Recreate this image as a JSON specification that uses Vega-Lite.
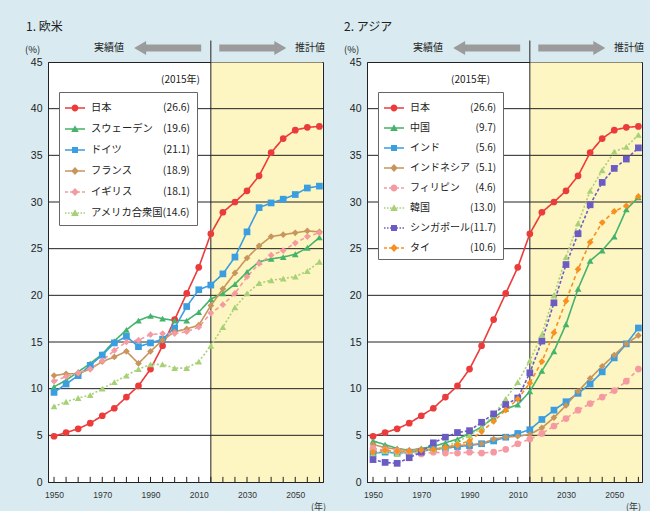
{
"$schema":"https://vega.github.io/schema/vega-lite/v6.json",
"background":"#d9ebf1",
"padding":{"left":23,"top":20,"right":5,"bottom":5},
"config":{"view":{"stroke":"#222","strokeWidth":1,"fill":"white"},"font":"Noto Sans CJK JP","axis":{"labelOverlap":false},"axisX":{"labelOverlap":false,"labelSeparation":0}},
"datasets":{
"grid":[{"g":5},{"g":10},{"g":15},{"g":20},{"g":25},{"g":30},{"g":35},{"g":40}],
"xt":[{"t":1950},{"t":1955},{"t":1960},{"t":1965},{"t":1970},{"t":1975},{"t":1980},{"t":1985},{"t":1990},{"t":1995},{"t":2000},{"t":2005},{"t":2010},{"t":2015},{"t":2020},{"t":2025},{"t":2030},{"t":2035},{"t":2040},{"t":2045},{"t":2050},{"t":2055},{"t":2060}],
"west":[
{"c":"日本","year":1950,"v":4.9},{"c":"日本","year":1955,"v":5.3},{"c":"日本","year":1960,"v":5.7},{"c":"日本","year":1965,"v":6.3},{"c":"日本","year":1970,"v":7.1},{"c":"日本","year":1975,"v":7.9},{"c":"日本","year":1980,"v":9.1},{"c":"日本","year":1985,"v":10.3},{"c":"日本","year":1990,"v":12.1},{"c":"日本","year":1995,"v":14.6},{"c":"日本","year":2000,"v":17.4},{"c":"日本","year":2005,"v":20.2},{"c":"日本","year":2010,"v":23.0},{"c":"日本","year":2015,"v":26.6},{"c":"日本","year":2020,"v":28.9},{"c":"日本","year":2025,"v":30.0},{"c":"日本","year":2030,"v":31.2},{"c":"日本","year":2035,"v":32.8},{"c":"日本","year":2040,"v":35.3},{"c":"日本","year":2045,"v":36.8},{"c":"日本","year":2050,"v":37.7},{"c":"日本","year":2055,"v":38.0},{"c":"日本","year":2060,"v":38.1},
{"c":"スウェーデン","year":1950,"v":10.2},{"c":"スウェーデン","year":1955,"v":10.9},{"c":"スウェーデン","year":1960,"v":11.8},{"c":"スウェーデン","year":1965,"v":12.7},{"c":"スウェーデン","year":1970,"v":13.7},{"c":"スウェーデン","year":1975,"v":15.1},{"c":"スウェーデン","year":1980,"v":16.3},{"c":"スウェーデン","year":1985,"v":17.3},{"c":"スウェーデン","year":1990,"v":17.8},{"c":"スウェーデン","year":1995,"v":17.5},{"c":"スウェーデン","year":2000,"v":17.3},{"c":"スウェーデン","year":2005,"v":17.3},{"c":"スウェーデン","year":2010,"v":18.2},{"c":"スウェーデン","year":2015,"v":19.6},{"c":"スウェーデン","year":2020,"v":20.2},{"c":"スウェーデン","year":2025,"v":21.2},{"c":"スウェーデン","year":2030,"v":22.5},{"c":"スウェーデン","year":2035,"v":23.6},{"c":"スウェーデン","year":2040,"v":23.9},{"c":"スウェーデン","year":2045,"v":24.1},{"c":"スウェーデン","year":2050,"v":24.4},{"c":"スウェーデン","year":2055,"v":25.1},{"c":"スウェーデン","year":2060,"v":26.2},
{"c":"ドイツ","year":1950,"v":9.6},{"c":"ドイツ","year":1955,"v":10.5},{"c":"ドイツ","year":1960,"v":11.4},{"c":"ドイツ","year":1965,"v":12.5},{"c":"ドイツ","year":1970,"v":13.6},{"c":"ドイツ","year":1975,"v":14.9},{"c":"ドイツ","year":1980,"v":15.6},{"c":"ドイツ","year":1985,"v":14.5},{"c":"ドイツ","year":1990,"v":14.9},{"c":"ドイツ","year":1995,"v":15.3},{"c":"ドイツ","year":2000,"v":16.5},{"c":"ドイツ","year":2005,"v":18.8},{"c":"ドイツ","year":2010,"v":20.6},{"c":"ドイツ","year":2015,"v":21.1},{"c":"ドイツ","year":2020,"v":22.3},{"c":"ドイツ","year":2025,"v":24.1},{"c":"ドイツ","year":2030,"v":26.8},{"c":"ドイツ","year":2035,"v":29.4},{"c":"ドイツ","year":2040,"v":29.9},{"c":"ドイツ","year":2045,"v":30.3},{"c":"ドイツ","year":2050,"v":30.8},{"c":"ドイツ","year":2055,"v":31.5},{"c":"ドイツ","year":2060,"v":31.7},
{"c":"フランス","year":1950,"v":11.4},{"c":"フランス","year":1955,"v":11.6},{"c":"フランス","year":1960,"v":11.6},{"c":"フランス","year":1965,"v":12.1},{"c":"フランス","year":1970,"v":12.9},{"c":"フランス","year":1975,"v":13.4},{"c":"フランス","year":1980,"v":14.0},{"c":"フランス","year":1985,"v":12.7},{"c":"フランス","year":1990,"v":14.0},{"c":"フランス","year":1995,"v":15.2},{"c":"フランス","year":2000,"v":16.1},{"c":"フランス","year":2005,"v":16.4},{"c":"フランス","year":2010,"v":16.8},{"c":"フランス","year":2015,"v":18.9},{"c":"フランス","year":2020,"v":20.7},{"c":"フランス","year":2025,"v":22.4},{"c":"フランス","year":2030,"v":24.0},{"c":"フランス","year":2035,"v":25.3},{"c":"フランス","year":2040,"v":26.3},{"c":"フランス","year":2045,"v":26.5},{"c":"フランス","year":2050,"v":26.7},{"c":"フランス","year":2055,"v":26.9},{"c":"フランス","year":2060,"v":26.8},
{"c":"イギリス","year":1950,"v":10.8},{"c":"イギリス","year":1955,"v":11.3},{"c":"イギリス","year":1960,"v":11.7},{"c":"イギリス","year":1965,"v":12.1},{"c":"イギリス","year":1970,"v":13.0},{"c":"イギリス","year":1975,"v":14.1},{"c":"イギリス","year":1980,"v":15.0},{"c":"イギリス","year":1985,"v":15.2},{"c":"イギリス","year":1990,"v":15.8},{"c":"イギリス","year":1995,"v":15.9},{"c":"イギリス","year":2000,"v":15.9},{"c":"イギリス","year":2005,"v":16.1},{"c":"イギリス","year":2010,"v":16.6},{"c":"イギリス","year":2015,"v":18.1},{"c":"イギリス","year":2020,"v":19.0},{"c":"イギリス","year":2025,"v":20.2},{"c":"イギリス","year":2030,"v":22.0},{"c":"イギリス","year":2035,"v":23.4},{"c":"イギリス","year":2040,"v":24.3},{"c":"イギリス","year":2045,"v":24.8},{"c":"イギリス","year":2050,"v":25.6},{"c":"イギリス","year":2055,"v":26.3},{"c":"イギリス","year":2060,"v":26.7},
{"c":"アメリカ合衆国","year":1950,"v":8.1},{"c":"アメリカ合衆国","year":1955,"v":8.6},{"c":"アメリカ合衆国","year":1960,"v":9.0},{"c":"アメリカ合衆国","year":1965,"v":9.3},{"c":"アメリカ合衆国","year":1970,"v":10.0},{"c":"アメリカ合衆国","year":1975,"v":10.7},{"c":"アメリカ合衆国","year":1980,"v":11.4},{"c":"アメリカ合衆国","year":1985,"v":12.1},{"c":"アメリカ合衆国","year":1990,"v":12.6},{"c":"アメリカ合衆国","year":1995,"v":12.6},{"c":"アメリカ合衆国","year":2000,"v":12.2},{"c":"アメリカ合衆国","year":2005,"v":12.2},{"c":"アメリカ合衆国","year":2010,"v":12.9},{"c":"アメリカ合衆国","year":2015,"v":14.6},{"c":"アメリカ合衆国","year":2020,"v":16.6},{"c":"アメリカ合衆国","year":2025,"v":18.7},{"c":"アメリカ合衆国","year":2030,"v":20.2},{"c":"アメリカ合衆国","year":2035,"v":21.3},{"c":"アメリカ合衆国","year":2040,"v":21.6},{"c":"アメリカ合衆国","year":2045,"v":21.8},{"c":"アメリカ合衆国","year":2050,"v":22.0},{"c":"アメリカ合衆国","year":2055,"v":22.6},{"c":"アメリカ合衆国","year":2060,"v":23.6}
],
"asia":[
{"c":"日本","year":1950,"v":4.9},{"c":"日本","year":1955,"v":5.3},{"c":"日本","year":1960,"v":5.7},{"c":"日本","year":1965,"v":6.3},{"c":"日本","year":1970,"v":7.1},{"c":"日本","year":1975,"v":7.9},{"c":"日本","year":1980,"v":9.1},{"c":"日本","year":1985,"v":10.3},{"c":"日本","year":1990,"v":12.1},{"c":"日本","year":1995,"v":14.6},{"c":"日本","year":2000,"v":17.4},{"c":"日本","year":2005,"v":20.2},{"c":"日本","year":2010,"v":23.0},{"c":"日本","year":2015,"v":26.6},{"c":"日本","year":2020,"v":28.9},{"c":"日本","year":2025,"v":30.0},{"c":"日本","year":2030,"v":31.2},{"c":"日本","year":2035,"v":32.8},{"c":"日本","year":2040,"v":35.3},{"c":"日本","year":2045,"v":36.8},{"c":"日本","year":2050,"v":37.7},{"c":"日本","year":2055,"v":38.0},{"c":"日本","year":2060,"v":38.1},
{"c":"中国","year":1950,"v":4.4},{"c":"中国","year":1955,"v":4.0},{"c":"中国","year":1960,"v":3.6},{"c":"中国","year":1965,"v":3.4},{"c":"中国","year":1970,"v":3.6},{"c":"中国","year":1975,"v":3.8},{"c":"中国","year":1980,"v":4.2},{"c":"中国","year":1985,"v":4.6},{"c":"中国","year":1990,"v":5.2},{"c":"中国","year":1995,"v":5.9},{"c":"中国","year":2000,"v":6.9},{"c":"中国","year":2005,"v":7.8},{"c":"中国","year":2010,"v":8.3},{"c":"中国","year":2015,"v":9.7},{"c":"中国","year":2020,"v":11.9},{"c":"中国","year":2025,"v":14.0},{"c":"中国","year":2030,"v":16.9},{"c":"中国","year":2035,"v":20.7},{"c":"中国","year":2040,"v":23.7},{"c":"中国","year":2045,"v":24.8},{"c":"中国","year":2050,"v":26.3},{"c":"中国","year":2055,"v":29.2},{"c":"中国","year":2060,"v":30.5},
{"c":"インド","year":1950,"v":3.1},{"c":"インド","year":1955,"v":3.2},{"c":"インド","year":1960,"v":3.1},{"c":"インド","year":1965,"v":3.2},{"c":"インド","year":1970,"v":3.3},{"c":"インド","year":1975,"v":3.5},{"c":"インド","year":1980,"v":3.6},{"c":"インド","year":1985,"v":3.8},{"c":"インド","year":1990,"v":3.9},{"c":"インド","year":1995,"v":4.1},{"c":"インド","year":2000,"v":4.4},{"c":"インド","year":2005,"v":4.8},{"c":"インド","year":2010,"v":5.2},{"c":"インド","year":2015,"v":5.6},{"c":"インド","year":2020,"v":6.7},{"c":"インド","year":2025,"v":7.7},{"c":"インド","year":2030,"v":8.6},{"c":"インド","year":2035,"v":9.5},{"c":"インド","year":2040,"v":10.5},{"c":"インド","year":2045,"v":11.8},{"c":"インド","year":2050,"v":13.3},{"c":"インド","year":2055,"v":14.8},{"c":"インド","year":2060,"v":16.5},
{"c":"インドネシア","year":1950,"v":4.0},{"c":"インドネシア","year":1955,"v":3.7},{"c":"インドネシア","year":1960,"v":3.5},{"c":"インドネシア","year":1965,"v":3.4},{"c":"インドネシア","year":1970,"v":3.5},{"c":"インドネシア","year":1975,"v":3.5},{"c":"インドネシア","year":1980,"v":3.7},{"c":"インドネシア","year":1985,"v":3.9},{"c":"インドネシア","year":1990,"v":4.0},{"c":"インドネシア","year":1995,"v":4.1},{"c":"インドネシア","year":2000,"v":4.6},{"c":"インドネシア","year":2005,"v":4.8},{"c":"インドネシア","year":2010,"v":4.9},{"c":"インドネシア","year":2015,"v":5.1},{"c":"インドネシア","year":2020,"v":5.8},{"c":"インドネシア","year":2025,"v":6.9},{"c":"インドネシア","year":2030,"v":8.2},{"c":"インドネシア","year":2035,"v":9.7},{"c":"インドネシア","year":2040,"v":11.1},{"c":"インドネシア","year":2045,"v":12.4},{"c":"インドネシア","year":2050,"v":13.6},{"c":"インドネシア","year":2055,"v":14.8},{"c":"インドネシア","year":2060,"v":15.7},
{"c":"フィリピン","year":1950,"v":3.6},{"c":"フィリピン","year":1955,"v":3.4},{"c":"フィリピン","year":1960,"v":3.3},{"c":"フィリピン","year":1965,"v":3.1},{"c":"フィリピン","year":1970,"v":3.0},{"c":"フィリピン","year":1975,"v":3.2},{"c":"フィリピン","year":1980,"v":3.1},{"c":"フィリピン","year":1985,"v":3.1},{"c":"フィリピン","year":1990,"v":3.2},{"c":"フィリピン","year":1995,"v":3.1},{"c":"フィリピン","year":2000,"v":3.2},{"c":"フィリピン","year":2005,"v":3.5},{"c":"フィリピン","year":2010,"v":4.1},{"c":"フィリピン","year":2015,"v":4.6},{"c":"フィリピン","year":2020,"v":5.2},{"c":"フィリピン","year":2025,"v":6.0},{"c":"フィリピン","year":2030,"v":6.8},{"c":"フィリピン","year":2035,"v":7.7},{"c":"フィリピン","year":2040,"v":8.4},{"c":"フィリピン","year":2045,"v":9.1},{"c":"フィリピン","year":2050,"v":9.8},{"c":"フィリピン","year":2055,"v":10.8},{"c":"フィリピン","year":2060,"v":12.1},
{"c":"韓国","year":1950,"v":3.0},{"c":"韓国","year":1955,"v":3.3},{"c":"韓国","year":1960,"v":3.0},{"c":"韓国","year":1965,"v":3.1},{"c":"韓国","year":1970,"v":3.3},{"c":"韓国","year":1975,"v":3.5},{"c":"韓国","year":1980,"v":3.8},{"c":"韓国","year":1985,"v":4.3},{"c":"韓国","year":1990,"v":5.0},{"c":"韓国","year":1995,"v":5.8},{"c":"韓国","year":2000,"v":7.2},{"c":"韓国","year":2005,"v":8.9},{"c":"韓国","year":2010,"v":10.7},{"c":"韓国","year":2015,"v":13.0},{"c":"韓国","year":2020,"v":15.8},{"c":"韓国","year":2025,"v":20.0},{"c":"韓国","year":2030,"v":24.1},{"c":"韓国","year":2035,"v":27.7},{"c":"韓国","year":2040,"v":31.2},{"c":"韓国","year":2045,"v":33.4},{"c":"韓国","year":2050,"v":35.4},{"c":"韓国","year":2055,"v":35.9},{"c":"韓国","year":2060,"v":37.2},
{"c":"シンガポール","year":1950,"v":2.4},{"c":"シンガポール","year":1955,"v":2.1},{"c":"シンガポール","year":1960,"v":2.0},{"c":"シンガポール","year":1965,"v":2.6},{"c":"シンガポール","year":1970,"v":3.2},{"c":"シンガポール","year":1975,"v":4.2},{"c":"シンガポール","year":1980,"v":4.8},{"c":"シンガポール","year":1985,"v":5.3},{"c":"シンガポール","year":1990,"v":5.5},{"c":"シンガポール","year":1995,"v":6.4},{"c":"シンガポール","year":2000,"v":7.3},{"c":"シンガポール","year":2005,"v":8.3},{"c":"シンガポール","year":2010,"v":9.0},{"c":"シンガポール","year":2015,"v":11.7},{"c":"シンガポール","year":2020,"v":15.1},{"c":"シンガポール","year":2025,"v":19.2},{"c":"シンガポール","year":2030,"v":23.3},{"c":"シンガポール","year":2035,"v":26.6},{"c":"シンガポール","year":2040,"v":29.7},{"c":"シンガポール","year":2045,"v":32.1},{"c":"シンガポール","year":2050,"v":33.6},{"c":"シンガポール","year":2055,"v":34.6},{"c":"シンガポール","year":2060,"v":35.8},
{"c":"タイ","year":1950,"v":3.2},{"c":"タイ","year":1955,"v":3.4},{"c":"タイ","year":1960,"v":3.3},{"c":"タイ","year":1965,"v":3.3},{"c":"タイ","year":1970,"v":3.4},{"c":"タイ","year":1975,"v":3.5},{"c":"タイ","year":1980,"v":3.7},{"c":"タイ","year":1985,"v":4.0},{"c":"タイ","year":1990,"v":4.4},{"c":"タイ","year":1995,"v":5.4},{"c":"タイ","year":2000,"v":6.5},{"c":"タイ","year":2005,"v":7.7},{"c":"タイ","year":2010,"v":8.9},{"c":"タイ","year":2015,"v":10.6},{"c":"タイ","year":2020,"v":12.9},{"c":"タイ","year":2025,"v":16.0},{"c":"タイ","year":2030,"v":19.4},{"c":"タイ","year":2035,"v":22.8},{"c":"タイ","year":2040,"v":25.7},{"c":"タイ","year":2045,"v":27.8},{"c":"タイ","year":2050,"v":29.0},{"c":"タイ","year":2055,"v":29.6},{"c":"タイ","year":2060,"v":30.6}
]
},
"spacing":44,
"bounds":"flush",
"resolve":{"scale":{"color":"independent","shape":"independent","strokeDash":"independent"},"legend":{"color":"independent"}},
"hconcat":[
{
"width":275,"height":420,
"title":{"text":"1. 欧米","anchor":"start","frame":"group","dx":-22,"offset":6,"fontSize":12,"fontWeight":"normal","font":"Noto Sans CJK JP","color":"#222"},
"layer":[
{"data":{"values":[{}]},"mark":{"type":"rect","fill":"#fdf5c2"},"encoding":{"x":{"datum":2015,"type":"quantitative","scale":{"domain":[1947.5,2061.5],"nice":false,"zero":false},"title":"(年)"},"x2":{"datum":2061.3},"y":{"datum":0,"type":"quantitative","scale":{"domain":[0,45],"nice":false},"title":"(%)"},"y2":{"datum":44.95}}},
{"data":{"name":"grid"},"mark":{"type":"rule","color":"#222","strokeWidth":1},"encoding":{"y":{"field":"g","type":"quantitative","scale":{"domain":[0,45],"nice":false},"title":"(%)"}}},
{"data":{"name":"xt"},"mark":{"type":"rule","color":"#222","strokeWidth":1},"encoding":{"x":{"field":"t","type":"quantitative","scale":{"domain":[1947.5,2061.5],"nice":false,"zero":false},"title":"(年)"},"y":{"datum":0,"type":"quantitative","scale":{"domain":[0,45],"nice":false},"title":"(%)"},"y2":{"datum":0.55}}},
{"data":{"values":[{}]},"mark":{"type":"rule","color":"#222","strokeWidth":1},"encoding":{"x":{"datum":2015,"type":"quantitative","scale":{"domain":[1947.5,2061.5],"nice":false,"zero":false},"title":"(年)"},"y":{"datum":0,"type":"quantitative","scale":{"domain":[0,45],"nice":false},"title":"(%)"},"y2":{"datum":47.3}}},
{"data":{"name":"west"},"mark":{"type":"line","strokeWidth":1.6},"encoding":{
"x":{"field":"year","type":"quantitative","scale":{"domain":[1947.5,2061.5],"nice":false,"zero":false},"title":"(年)","axis":{"values":[1950,1960,1970,1980,1990,2000,2010,2020,2030,2040,2050,2060],"format":"d","grid":false,"ticks":false,"domainColor":"#222","labelPadding":8,"labelFont":"Liberation Sans","labelFontSize":8.5,"labelColor":"#333","labelOverlap":false,"labelSeparation":0,"labelFlush":false,"titleX":270,"titleY":24,"titleAlign":"center","titleBaseline":"middle","titleFontSize":9,"titleFontWeight":"normal","titleColor":"#333","zindex":1}},
"y":{"field":"v","type":"quantitative","scale":{"domain":[0,45],"nice":false},"title":"(%)","axis":{"values":[0,5,10,15,20,25,30,35,40,45],"grid":false,"ticks":false,"domainColor":"#222","labelPadding":6,"labelFont":"Liberation Sans","labelFontSize":10.5,"labelColor":"#222","titleAngle":0,"titleX":-16,"titleY":-13,"titleAlign":"center","titleBaseline":"middle","titleFontSize":9.5,"titleFontWeight":"normal","titleColor":"#222","zindex":1}},
"color":{"field":"c","type":"nominal","scale":{"domain":["日本","スウェーデン","ドイツ","フランス","イギリス","アメリカ合衆国"],"range":["#ec3b3b","#45b36a","#3a9ee0","#c8955c","#f59aa0","#a8d077"]},
"legend":{"orient":"none","legendX":11,"legendY":30,"title":null,"fillColor":"white","strokeColor":"#666","padding":6,"rowPadding":5,"symbolSize":400,"labelOffset":6,"labelFont":"Noto Sans CJK JP","labelFontSize":10.3,"labelColor":"#222","labelLimit":400,
"labelExpr":"['日本　　　　　(26.6)','スウェーデン　(19.6)','ドイツ　　　　(21.1)','フランス　　　(18.9)','イギリス　　　(18.1)','アメリカ合衆国(14.6)'][indexof(['日本','スウェーデン','ドイツ','フランス','イギリス','アメリカ合衆国'], datum.value)]",
"encode":{"symbols":{"update":{
"shape":{"signal":"['M-1,-0.08H1V0.08H-1ZM0.34,0A0.34,0.34,0,1,1,-0.34,0A0.34,0.34,0,1,1,0.34,0Z','M-1,-0.08H1V0.08H-1ZM0,-0.38L0.38,0.3H-0.38Z','M-1,-0.08H1V0.08H-1ZM-0.3,-0.3H0.3V0.3H-0.3Z','M-1,-0.08H1V0.08H-1ZM0,-0.4L0.38,0L0,0.4L-0.38,0Z','M-1,-0.08H-0.7V0.08H-1ZM-0.5,-0.08H-0.2V0.08H-0.5ZM0.2,-0.08H0.5V0.08H0.2ZM0.7,-0.08H1V0.08H0.7ZM0,-0.4L0.38,0L0,0.4L-0.38,0Z','M-1,-0.08H-0.85V0.08H-1ZM-0.7,-0.08H-0.55V0.08H-0.7ZM-0.4,-0.08H-0.25V0.08H-0.4ZM0.25,-0.08H0.4V0.08H0.25ZM0.55,-0.08H0.7V0.08H0.55ZM0.85,-0.08H1V0.08H0.85ZM0,-0.38L0.38,0.3H-0.38Z'][indexof(['日本','スウェーデン','ドイツ','フランス','イギリス','アメリカ合衆国'], datum.value)]"},
"fill":{"signal":"['#ec3b3b','#45b36a','#3a9ee0','#c8955c','#f59aa0','#a8d077'][indexof(['日本','スウェーデン','ドイツ','フランス','イギリス','アメリカ合衆国'], datum.value)]"},
"stroke":{"value":"transparent"},"strokeWidth":{"value":0},"size":{"value":400},"opacity":{"value":1}}}}}},
"strokeDash":{"field":"c","type":"nominal","scale":{"domain":["日本","スウェーデン","ドイツ","フランス","イギリス","アメリカ合衆国"],"range":[[1,0],[1,0],[1,0],[1,0],[4,3],[2,2]]},"legend":null}
}},
{"data":{"name":"west"},"mark":{"type":"point","filled":true,"size":45,"opacity":1},"encoding":{
"x":{"field":"year","type":"quantitative","scale":{"domain":[1947.5,2061.5],"nice":false,"zero":false},"title":"(年)"},
"y":{"field":"v","type":"quantitative","scale":{"domain":[0,45],"nice":false},"title":"(%)"},
"color":{"field":"c","type":"nominal","scale":{"domain":["日本","スウェーデン","ドイツ","フランス","イギリス","アメリカ合衆国"],"range":["#ec3b3b","#45b36a","#3a9ee0","#c8955c","#f59aa0","#a8d077"]},"legend":null},
"shape":{"field":"c","type":"nominal","scale":{"domain":["アメリカ合衆国","イギリス","フランス","ドイツ","スウェーデン","日本"],"range":["triangle-up","diamond","diamond","square","triangle-up","circle"]},"legend":null}
}},
{"data":{"values":[{}]},"mark":{"type":"rule","strokeWidth":7,"color":"#9b9b9b"},"encoding":{"x":{"datum":1986,"type":"quantitative","scale":{"domain":[1947.5,2061.5],"nice":false,"zero":false},"title":"(年)"},"x2":{"datum":2011},"y":{"datum":46.5,"type":"quantitative","scale":{"domain":[0,45],"nice":false},"title":"(%)"}}},
{"data":{"values":[{}]},"mark":{"type":"rule","strokeWidth":7,"color":"#9b9b9b"},"encoding":{"x":{"datum":2018.5,"type":"quantitative","scale":{"domain":[1947.5,2061.5],"nice":false,"zero":false},"title":"(年)"},"x2":{"datum":2043.5},"y":{"datum":46.5,"type":"quantitative","scale":{"domain":[0,45],"nice":false},"title":"(%)"}}},
{"data":{"values":[{}]},"mark":{"type":"point","shape":"triangle-left","filled":true,"size":190,"color":"#9b9b9b","opacity":1},"encoding":{"x":{"datum":1985.7,"type":"quantitative","scale":{"domain":[1947.5,2061.5],"nice":false,"zero":false},"title":"(年)"},"y":{"datum":46.5,"type":"quantitative","scale":{"domain":[0,45],"nice":false},"title":"(%)"}}},
{"data":{"values":[{}]},"mark":{"type":"point","shape":"triangle-right","filled":true,"size":190,"color":"#9b9b9b","opacity":1},"encoding":{"x":{"datum":2043.8,"type":"quantitative","scale":{"domain":[1947.5,2061.5],"nice":false,"zero":false},"title":"(年)"},"y":{"datum":46.5,"type":"quantitative","scale":{"domain":[0,45],"nice":false},"title":"(%)"}}},
{"data":{"values":[{}]},"mark":{"type":"text","text":"実績値","fontSize":10,"font":"Noto Sans CJK JP","color":"#222"},"encoding":{"x":{"datum":1972.8,"type":"quantitative","scale":{"domain":[1947.5,2061.5],"nice":false,"zero":false},"title":"(年)"},"y":{"datum":46.5,"type":"quantitative","scale":{"domain":[0,45],"nice":false},"title":"(%)"}}},
{"data":{"values":[{}]},"mark":{"type":"text","text":"推計値","fontSize":10,"font":"Noto Sans CJK JP","color":"#222"},"encoding":{"x":{"datum":2056.1,"type":"quantitative","scale":{"domain":[1947.5,2061.5],"nice":false,"zero":false},"title":"(年)"},"y":{"datum":46.5,"type":"quantitative","scale":{"domain":[0,45],"nice":false},"title":"(%)"}}},
{"data":{"values":[{}]},"mark":{"type":"text","text":"(2015年)","align":"right","fontSize":10,"font":"Noto Sans CJK JP","color":"#222"},"encoding":{"x":{"datum":2010.5,"type":"quantitative","scale":{"domain":[1947.5,2061.5],"nice":false,"zero":false},"title":"(年)"},"y":{"datum":43.1,"type":"quantitative","scale":{"domain":[0,45],"nice":false},"title":"(%)"}}}
]
},
{
"width":275,"height":420,
"title":{"text":"2. アジア","anchor":"start","frame":"group","dx":-23,"offset":6,"fontSize":12,"fontWeight":"normal","font":"Noto Sans CJK JP","color":"#222"},
"layer":[
{"data":{"values":[{}]},"mark":{"type":"rect","fill":"#fdf5c2"},"encoding":{"x":{"datum":2015,"type":"quantitative","scale":{"domain":[1947.5,2061.5],"nice":false,"zero":false},"title":"(年)"},"x2":{"datum":2061.3},"y":{"datum":0,"type":"quantitative","scale":{"domain":[0,45],"nice":false},"title":"(%)"},"y2":{"datum":44.95}}},
{"data":{"name":"grid"},"mark":{"type":"rule","color":"#222","strokeWidth":1},"encoding":{"y":{"field":"g","type":"quantitative","scale":{"domain":[0,45],"nice":false},"title":"(%)"}}},
{"data":{"name":"xt"},"mark":{"type":"rule","color":"#222","strokeWidth":1},"encoding":{"x":{"field":"t","type":"quantitative","scale":{"domain":[1947.5,2061.5],"nice":false,"zero":false},"title":"(年)"},"y":{"datum":0,"type":"quantitative","scale":{"domain":[0,45],"nice":false},"title":"(%)"},"y2":{"datum":0.55}}},
{"data":{"values":[{}]},"mark":{"type":"rule","color":"#222","strokeWidth":1},"encoding":{"x":{"datum":2015,"type":"quantitative","scale":{"domain":[1947.5,2061.5],"nice":false,"zero":false},"title":"(年)"},"y":{"datum":0,"type":"quantitative","scale":{"domain":[0,45],"nice":false},"title":"(%)"},"y2":{"datum":47.3}}},
{"data":{"name":"asia"},"mark":{"type":"line","strokeWidth":1.6},"encoding":{
"x":{"field":"year","type":"quantitative","scale":{"domain":[1947.5,2061.5],"nice":false,"zero":false},"title":"(年)","axis":{"values":[1950,1960,1970,1980,1990,2000,2010,2020,2030,2040,2050,2060],"format":"d","grid":false,"ticks":false,"domainColor":"#222","labelPadding":8,"labelFont":"Liberation Sans","labelFontSize":8.5,"labelColor":"#333","labelOverlap":false,"labelSeparation":0,"labelFlush":false,"titleX":266,"titleY":24,"titleAlign":"center","titleBaseline":"middle","titleFontSize":9,"titleFontWeight":"normal","titleColor":"#333","zindex":1}},
"y":{"field":"v","type":"quantitative","scale":{"domain":[0,45],"nice":false},"title":"(%)","axis":{"values":[0,5,10,15,20,25,30,35,40,45],"grid":false,"ticks":false,"domainColor":"#222","labelPadding":6,"labelFont":"Liberation Sans","labelFontSize":10.5,"labelColor":"#222","titleAngle":0,"titleX":-16,"titleY":-13,"titleAlign":"center","titleBaseline":"middle","titleFontSize":9.5,"titleFontWeight":"normal","titleColor":"#222","zindex":1}},
"color":{"field":"c","type":"nominal","scale":{"domain":["日本","中国","インド","インドネシア","フィリピン","韓国","シンガポール","タイ"],"range":["#ec3b3b","#45b36a","#3a9ee0","#c8955c","#f59aa0","#a8d077","#6b5cc4","#f7901e"]},
"legend":{"orient":"none","legendX":11,"legendY":30,"title":null,"fillColor":"white","strokeColor":"#666","padding":6,"rowPadding":5,"symbolSize":400,"labelOffset":6,"labelFont":"Noto Sans CJK JP","labelFontSize":10,"labelColor":"#222","labelLimit":400,
"labelExpr":"['日本　　　　(26.6)','中国　　　　\u2007(9.7)','インド　　　\u2007(5.6)','インドネシア\u2007(5.1)','フィリピン　\u2007(4.6)','韓国　　　　(13.0)','シンガポール(11.7)','タイ　　　　(10.6)'][indexof(['日本','中国','インド','インドネシア','フィリピン','韓国','シンガポール','タイ'], datum.value)]",
"encode":{"symbols":{"update":{
"shape":{"signal":"['M-1,-0.08H1V0.08H-1ZM0.34,0A0.34,0.34,0,1,1,-0.34,0A0.34,0.34,0,1,1,0.34,0Z','M-1,-0.08H1V0.08H-1ZM0,-0.38L0.38,0.3H-0.38Z','M-1,-0.08H1V0.08H-1ZM-0.3,-0.3H0.3V0.3H-0.3Z','M-1,-0.08H1V0.08H-1ZM0,-0.4L0.38,0L0,0.4L-0.38,0Z','M-1,-0.08H-0.7V0.08H-1ZM-0.5,-0.08H-0.2V0.08H-0.5ZM0.2,-0.08H0.5V0.08H0.2ZM0.7,-0.08H1V0.08H0.7ZM0.34,0A0.34,0.34,0,1,1,-0.34,0A0.34,0.34,0,1,1,0.34,0Z','M-1,-0.08H-0.85V0.08H-1ZM-0.7,-0.08H-0.55V0.08H-0.7ZM-0.4,-0.08H-0.25V0.08H-0.4ZM0.25,-0.08H0.4V0.08H0.25ZM0.55,-0.08H0.7V0.08H0.55ZM0.85,-0.08H1V0.08H0.85ZM0,-0.38L0.38,0.3H-0.38Z','M-1,-0.08H-0.85V0.08H-1ZM-0.7,-0.08H-0.55V0.08H-0.7ZM-0.4,-0.08H-0.25V0.08H-0.4ZM0.25,-0.08H0.4V0.08H0.25ZM0.55,-0.08H0.7V0.08H0.55ZM0.85,-0.08H1V0.08H0.85ZM-0.3,-0.3H0.3V0.3H-0.3Z','M-1,-0.08H-0.7V0.08H-1ZM-0.5,-0.08H-0.2V0.08H-0.5ZM0.2,-0.08H0.5V0.08H0.2ZM0.7,-0.08H1V0.08H0.7ZM0,-0.4L0.38,0L0,0.4L-0.38,0Z'][indexof(['日本','中国','インド','インドネシア','フィリピン','韓国','シンガポール','タイ'], datum.value)]"},
"fill":{"signal":"['#ec3b3b','#45b36a','#3a9ee0','#c8955c','#f59aa0','#a8d077','#6b5cc4','#f7901e'][indexof(['日本','中国','インド','インドネシア','フィリピン','韓国','シンガポール','タイ'], datum.value)]"},
"stroke":{"value":"transparent"},"strokeWidth":{"value":0},"size":{"value":400},"opacity":{"value":1}}}}}},
"strokeDash":{"field":"c","type":"nominal","scale":{"domain":["日本","中国","インド","インドネシア","フィリピン","韓国","シンガポール","タイ"],"range":[[1,0],[1,0],[1,0],[1,0],[4,3],[2,2],[3,2],[4,3]]},"legend":null}
}},
{"data":{"name":"asia"},"mark":{"type":"point","filled":true,"size":45,"opacity":1},"encoding":{
"x":{"field":"year","type":"quantitative","scale":{"domain":[1947.5,2061.5],"nice":false,"zero":false},"title":"(年)"},
"y":{"field":"v","type":"quantitative","scale":{"domain":[0,45],"nice":false},"title":"(%)"},
"color":{"field":"c","type":"nominal","scale":{"domain":["日本","中国","インド","インドネシア","フィリピン","韓国","シンガポール","タイ"],"range":["#ec3b3b","#45b36a","#3a9ee0","#c8955c","#f59aa0","#a8d077","#6b5cc4","#f7901e"]},"legend":null},
"shape":{"field":"c","type":"nominal","scale":{"domain":["タイ","シンガポール","韓国","フィリピン","インドネシア","インド","中国","日本"],"range":["diamond","square","triangle-up","circle","diamond","square","triangle-up","circle"]},"legend":null}
}},
{"data":{"values":[{}]},"mark":{"type":"rule","strokeWidth":7,"color":"#9b9b9b"},"encoding":{"x":{"datum":1986,"type":"quantitative","scale":{"domain":[1947.5,2061.5],"nice":false,"zero":false},"title":"(年)"},"x2":{"datum":2011},"y":{"datum":46.5,"type":"quantitative","scale":{"domain":[0,45],"nice":false},"title":"(%)"}}},
{"data":{"values":[{}]},"mark":{"type":"rule","strokeWidth":7,"color":"#9b9b9b"},"encoding":{"x":{"datum":2018.5,"type":"quantitative","scale":{"domain":[1947.5,2061.5],"nice":false,"zero":false},"title":"(年)"},"x2":{"datum":2043.5},"y":{"datum":46.5,"type":"quantitative","scale":{"domain":[0,45],"nice":false},"title":"(%)"}}},
{"data":{"values":[{}]},"mark":{"type":"point","shape":"triangle-left","filled":true,"size":190,"color":"#9b9b9b","opacity":1},"encoding":{"x":{"datum":1985.7,"type":"quantitative","scale":{"domain":[1947.5,2061.5],"nice":false,"zero":false},"title":"(年)"},"y":{"datum":46.5,"type":"quantitative","scale":{"domain":[0,45],"nice":false},"title":"(%)"}}},
{"data":{"values":[{}]},"mark":{"type":"point","shape":"triangle-right","filled":true,"size":190,"color":"#9b9b9b","opacity":1},"encoding":{"x":{"datum":2043.8,"type":"quantitative","scale":{"domain":[1947.5,2061.5],"nice":false,"zero":false},"title":"(年)"},"y":{"datum":46.5,"type":"quantitative","scale":{"domain":[0,45],"nice":false},"title":"(%)"}}},
{"data":{"values":[{}]},"mark":{"type":"text","text":"実績値","fontSize":10,"font":"Noto Sans CJK JP","color":"#222"},"encoding":{"x":{"datum":1972.8,"type":"quantitative","scale":{"domain":[1947.5,2061.5],"nice":false,"zero":false},"title":"(年)"},"y":{"datum":46.5,"type":"quantitative","scale":{"domain":[0,45],"nice":false},"title":"(%)"}}},
{"data":{"values":[{}]},"mark":{"type":"text","text":"推計値","fontSize":10,"font":"Noto Sans CJK JP","color":"#222"},"encoding":{"x":{"datum":2056.1,"type":"quantitative","scale":{"domain":[1947.5,2061.5],"nice":false,"zero":false},"title":"(年)"},"y":{"datum":46.5,"type":"quantitative","scale":{"domain":[0,45],"nice":false},"title":"(%)"}}},
{"data":{"values":[{}]},"mark":{"type":"text","text":"(2015年)","align":"right","fontSize":10,"font":"Noto Sans CJK JP","color":"#222"},"encoding":{"x":{"datum":1998.5,"type":"quantitative","scale":{"domain":[1947.5,2061.5],"nice":false,"zero":false},"title":"(年)"},"y":{"datum":43.1,"type":"quantitative","scale":{"domain":[0,45],"nice":false},"title":"(%)"}}}
]
}
]
}
